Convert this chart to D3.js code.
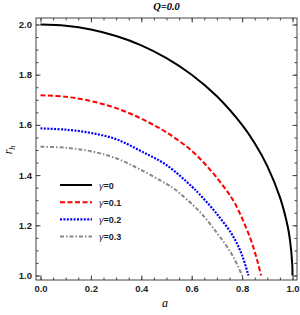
<!DOCTYPE html>
<html>
<head>
<meta charset="utf-8">
<script src="https://cdn.jsdelivr.net/npm/d3@7"></script>
<style>
  body { margin: 0; background: #fff; }
  svg text { font-family: "Liberation Sans", Arial, sans-serif; }
</style>
</head>
<body>
<svg id="chart"></svg>
<script>
// values
const gammas = ["0", "0.1", "0.2", "0.3"];

const aBlack = [0, 0.1, 0.2, 0.3, 0.4, 0.5, 0.6, 0.7, 0.8, 0.85, 0.9, 0.95, 0.98, 0.99, 0.999, 1.0];
const rBlack = [2.0, 1.995, 1.98, 1.954, 1.917, 1.866, 1.80, 1.714, 1.60, 1.527, 1.436, 1.312, 1.2, 1.141, 1.045, 1.0];

const aRed = [0, 0.1, 0.2, 0.3, 0.4, 0.5, 0.6, 0.67, 0.73, 0.77, 0.83, 0.86, 0.875];
const rRed = [1.718, 1.712, 1.695, 1.667, 1.625, 1.57, 1.497, 1.425, 1.35, 1.29, 1.155, 1.06, 1.0];

const aBlue = [0, 0.1, 0.2, 0.3, 0.4, 0.5, 0.6, 0.63, 0.7, 0.765, 0.8, 0.825];
const rBlue = [1.586, 1.581, 1.568, 1.543, 1.495, 1.44, 1.355, 1.325, 1.245, 1.155, 1.08, 1.0];

const aGray = [0, 0.1, 0.2, 0.3, 0.4, 0.5, 0.53, 0.63, 0.7, 0.74, 0.77, 0.8];
const rGray = [1.513, 1.509, 1.495, 1.467, 1.42, 1.365, 1.346, 1.256, 1.17, 1.115, 1.065, 1.0];

const xTicks = [0, 0.2, 0.4, 0.6, 0.8, 1.0];
const yTicks = [1.0, 1.2, 1.4, 1.6, 1.8, 2.0];

const series = [
  { a: aBlack, r: rBlack, color: "#000", dash: null, width: 2 },
  { a: aRed, r: rRed, color: "#f00", dash: "5,2.5", width: 2 },
  { a: aBlue, r: rBlue, color: "#00f", dash: "2,1.4", width: 2.2 },
  { a: aGray, r: rGray, color: "#888", dash: "4,2,1.5,2", width: 2 }
];

const W = 300, H = 315;
const box = { left: 36, right: 297, top: 18, bottom: 280 };

const svg = d3.select("#chart").attr("width", W).attr("height", H);

const x = d3.scaleLinear().domain([0, 1]).range([40.5, 292.5]);
const y = d3.scaleLinear().domain([1, 2]).range([275.5, 24.5]);
const xl = d3.scaleLinear().domain([x.invert(box.left), x.invert(box.right)]).range([box.left, box.right]);
const yl = d3.scaleLinear().domain([y.invert(box.bottom), y.invert(box.top)]).range([box.bottom, box.top]);

// minor ticks every 0.05
const minorX = d3.range(0, 1.0001, 0.05);
const minorY = d3.range(1, 2.0001, 0.05);
const frameColor = "#444";

function styleAxis(g) {
  g.select(".domain").remove();
  g.selectAll(".tick line").attr("stroke", frameColor);
}

// minor ticks (inward)
svg.append("g").attr("transform", `translate(0,${box.bottom})`)
  .call(d3.axisTop(xl).tickValues(minorX).tickSize(2.5).tickFormat(""))
  .call(styleAxis);
svg.append("g").attr("transform", `translate(0,${box.top})`)
  .call(d3.axisBottom(xl).tickValues(minorX).tickSize(2.5).tickFormat(""))
  .call(styleAxis);
svg.append("g").attr("transform", `translate(${box.left},0)`)
  .call(d3.axisRight(yl).tickValues(minorY).tickSize(2.5).tickFormat(""))
  .call(styleAxis);
svg.append("g").attr("transform", `translate(${box.right},0)`)
  .call(d3.axisLeft(yl).tickValues(minorY).tickSize(2.5).tickFormat(""))
  .call(styleAxis);

// major ticks
const xAxis = svg.append("g").attr("transform", `translate(0,${box.bottom})`)
  .call(d3.axisTop(xl).tickValues(xTicks).tickSize(4.5).tickFormat(d3.format(".1f")))
  .call(styleAxis);
xAxis.selectAll(".tick text").attr("y", 12).attr("dy", 0)
  .attr("font-size", 9.5).attr("font-weight", "bold").attr("fill", "#222");

svg.append("g").attr("transform", `translate(0,${box.top})`)
  .call(d3.axisBottom(xl).tickValues(xTicks).tickSize(4.5).tickFormat(""))
  .call(styleAxis);

const yAxis = svg.append("g").attr("transform", `translate(${box.left},0)`)
  .call(d3.axisRight(yl).tickValues(yTicks).tickSize(4.5).tickFormat(d3.format(".1f")))
  .call(styleAxis);
yAxis.selectAll(".tick text").attr("x", -4).attr("text-anchor", "end")
  .attr("font-size", 9.5).attr("font-weight", "bold").attr("fill", "#222");

svg.append("g").attr("transform", `translate(${box.right},0)`)
  .call(d3.axisLeft(yl).tickValues(yTicks).tickSize(4.5).tickFormat(""))
  .call(styleAxis);

// frame
svg.append("rect")
  .attr("x", box.left).attr("y", box.top)
  .attr("width", box.right - box.left).attr("height", box.bottom - box.top)
  .attr("fill", "none").attr("stroke", frameColor).attr("stroke-width", 1);

// curves
const line = d3.line()
  .x(d => x(d[0]))
  .y(d => y(d[1]))
  .curve(d3.curveCatmullRom.alpha(0.5));

series.forEach(s => {
  svg.append("path")
    .datum(s.a.map((v, i) => [v, s.r[i]]))
    .attr("d", line)
    .attr("fill", "none")
    .attr("stroke", s.color)
    .attr("stroke-width", s.width)
    .attr("stroke-dasharray", s.dash);
});

// legend
const leg = svg.append("g").attr("transform", "translate(60,185)");
series.forEach((s, i) => {
  const row = leg.append("g").attr("transform", `translate(0,${i * 17.2})`);
  row.append("line")
    .attr("x1", 0).attr("x2", 32)
    .attr("stroke", s.color)
    .attr("stroke-width", s.width)
    .attr("stroke-dasharray", s.dash);
  const t = row.append("text").attr("x", 39).attr("y", 3.5)
    .attr("font-size", 9).attr("fill", "#222");
  t.append("tspan").attr("font-style", "italic").text("γ");
  t.append("tspan").attr("font-weight", "bold").text("=" + gammas[i]);
});

// title and axis labels
svg.append("text")
  .attr("x", 166.5).attr("y", 10)
  .attr("text-anchor", "middle")
  .style("font-family", "'Liberation Serif', 'Times New Roman', serif")
  .attr("font-size", 10.5).attr("font-weight", "bold").attr("font-style", "italic")
  .text("Q=0.0");

svg.append("text")
  .attr("x", 165).attr("y", 307)
  .attr("text-anchor", "middle")
  .style("font-family", "'Liberation Serif', 'Times New Roman', serif")
  .attr("font-size", 12).attr("font-style", "italic")
  .text("a");

const yLab = svg.append("text")
  .attr("transform", "translate(12,150) rotate(-90)")
  .attr("text-anchor", "middle")
  .style("font-family", "'Liberation Serif', 'Times New Roman', serif")
  .attr("font-size", 12).attr("font-style", "italic");
yLab.append("tspan").text("r");
yLab.append("tspan").attr("font-size", 8).attr("dy", 3).text("h");
</script>
</body>
</html>
